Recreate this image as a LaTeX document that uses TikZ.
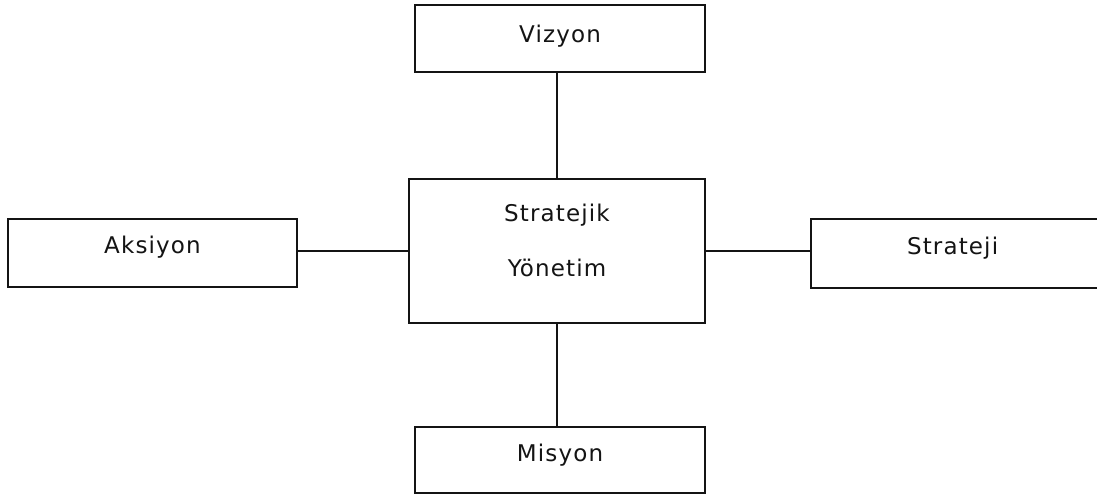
\documentclass[tikz,border=0pt]{standalone}
\usepackage{fontspec}
\setmainfont{DejaVu Sans}[LetterSpace=5]
\definecolor{ink}{RGB}{20,20,20}
\begin{document}
\begin{tikzpicture}[x=1pt,y=-1pt,
  label font/.style={font=\fontsize{23}{55}\selectfont, text=ink},
  box/.style={draw=ink, line width=1.6pt, fill=white, inner sep=0pt,
    label font, text height=17pt},
  link/.style={draw=ink, line width=1.6pt}]
  \useasboundingbox (0,0) rectangle (1097,498);
  % central box and its two-line caption
  \node[box, minimum width=296pt, minimum height=144pt] (core) at (557,251) {};
  \node[label font, align=center, inner sep=0pt] (coretext) at (557,240)
    {Stratejik\\Yönetim};
  % surrounding boxes
  \node[box, minimum width=290pt, minimum height=67pt, text depth=9.2pt] (viz) at (560,38.5) {Vizyon};
  \node[box, minimum width=290pt, minimum height=66pt, text depth=14.2pt] (mis) at (560,460) {Misyon};
  \node[box, minimum width=289pt, minimum height=68pt, text depth=16.2pt] (aks) at (152.5,253) {Aksiyon};
  \node[box, minimum width=290pt, minimum height=69pt, text depth=15.2pt,
    text width=290pt, align=left] (str) at (956,253.5)
    {\hspace*{96pt}Strateji};
  % connectors
  \draw[link] (viz.south -| core.north) -- (core.north);
  \draw[link] (core.south) -- (core.south |- mis.north);
  \draw[link] (aks.east |- core.west) -- (core.west);
  \draw[link] (core.east) -- (core.east -| str.west);
\end{tikzpicture}
\end{document}
